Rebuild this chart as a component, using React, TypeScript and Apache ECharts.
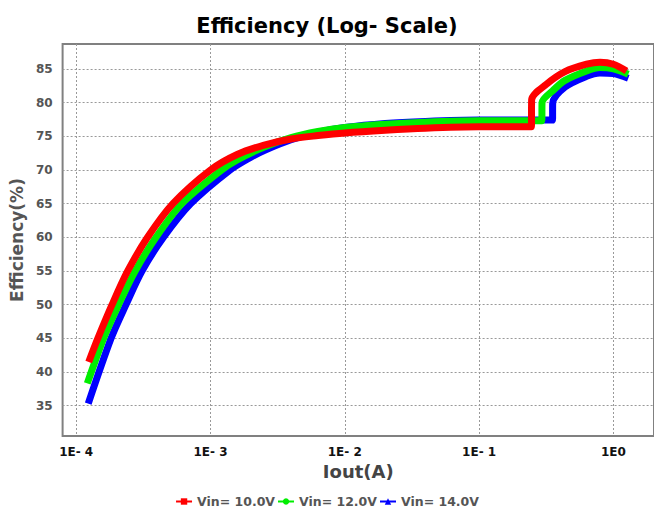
import React, { useEffect, useRef } from "react";
import * as echarts from "echarts";

// Iout (A) and efficiency (%)
const redX = [1.24e-4, 1.45e-4, 1.85e-4, 2.42e-4, 3.4e-4, 5.25e-4, 1.0e-3, 1.58e-3, 2.51e-3, 3.98e-3, 6.31e-3, 1.0e-2, 2.0e-2, 3.98e-2, 0.1, 0.2, 0.245, 0.246, 0.316, 0.436, 0.631, 0.794, 1.0, 1.25];
const redY = [41.5, 45.0, 50.0, 55.0, 60.0, 65.0, 70.0, 72.3, 73.7, 74.6, 75.1, 75.5, 75.9, 76.2, 76.4, 76.4, 76.4, 80.4, 82.7, 84.6, 85.7, 86.0, 85.7, 84.7];

const greenX = [1.21e-4, 1.6e-4, 2.07e-4, 2.75e-4, 3.93e-4, 6.12e-4, 1.21e-3, 1.58e-3, 2.51e-3, 3.98e-3, 6.31e-3, 1.0e-2, 2.0e-2, 3.98e-2, 0.1, 0.2, 0.293, 0.294, 0.355, 0.436, 0.631, 0.794, 1.0, 1.29];
const greenY = [38.3, 45.0, 50.0, 55.0, 60.0, 65.0, 70.0, 71.5, 73.4, 74.8, 75.7, 76.3, 76.8, 77.1, 77.3, 77.3, 77.3, 80.0, 81.8, 83.3, 84.7, 85.2, 85.0, 84.2];

const blueX = [1.23e-4, 1.82e-4, 2.35e-4, 3.09e-4, 4.47e-4, 7.13e-4, 1.4e-3, 2.0e-3, 2.51e-3, 3.98e-3, 6.31e-3, 1.0e-2, 2.0e-2, 3.98e-2, 0.1, 0.2, 0.352, 0.353, 0.436, 0.631, 0.794, 1.0, 1.29];
const blueY = [35.3, 45.0, 50.0, 55.0, 60.0, 65.0, 70.0, 71.9, 72.9, 74.5, 75.6, 76.3, 76.9, 77.2, 77.4, 77.4, 77.4, 79.9, 82.3, 83.9, 84.4, 84.3, 83.6];

const seriesNames = ["Vin= 10.0V", "Vin= 12.0V", "Vin= 14.0V"];
const xTicks = [1e-4, 1e-3, 1e-2, 1e-1, 1];
const yTicks = [35, 40, 45, 50, 55, 60, 65, 70, 75, 80, 85];

const FONT = "'DejaVu Sans', Verdana, sans-serif";

const zip = (xs: number[], ys: number[]) => xs.map((x, i) => [x, ys[i]]);

export default function App() {
  const ref = useRef<HTMLDivElement>(null);
  useEffect(() => {
    if (!ref.current) return;
    const chart = echarts.init(ref.current, undefined, { renderer: "svg" });
    const mk = (name: string, data: number[][], color: string, symbol: string, z: number) => ({
      name,
      type: "line",
      data,
      z,
      smooth: 0.3,
      showSymbol: false,
      symbol,
      symbolSize: 9,
      itemStyle: { color },
      lineStyle: { color, width: 7, cap: "butt", join: "round" },
    });
    chart.setOption({
      animation: false,
      backgroundColor: "#fff",
      textStyle: { fontFamily: FONT },
      title: {
        text: "Efficiency (Log- Scale)",
        left: "center",
        top: 10,
        textStyle: { fontSize: 21, fontWeight: "bold", color: "#000", fontFamily: FONT },
      },
      legend: {
        top: 490,
        left: "center",
        itemWidth: 16,
        itemHeight: 8,
        itemGap: 2,
        textStyle: { fontSize: 12.5, lineHeight: 13, fontWeight: "bold", color: "#555", fontFamily: FONT },
        data: seriesNames,
      },
      grid: {
        left: 62,
        right: -2,
        top: 44,
        bottom: 75,
        show: true,
        borderColor: "#808080",
        borderWidth: 2,
      },
      xAxis: {
        type: "log",
        logBase: 10,
        min: Math.pow(10, -4.101),
        max: Math.pow(10, 0.302),
        name: "Iout(A)",
        nameLocation: "middle",
        nameGap: 26,
        nameTextStyle: { fontSize: 18, fontWeight: "bold", color: "#444", fontFamily: FONT },
        axisLine: { show: false },
        axisTick: { show: false, customValues: xTicks },
        axisLabel: {
          customValues: xTicks,
          margin: 10,
          fontSize: 12,
          fontWeight: "bold",
          color: "#111",
          fontFamily: FONT,
          formatter: (v: number) => {
            const e = Math.round(Math.log10(v));
            return e < 0 ? `1E- ${-e}` : `1E${e}`;
          },
        },
        splitLine: { show: true, lineStyle: { color: "#999", width: 1, type: [2, 2] } },
      },
      yAxis: {
        type: "value",
        min: 30.5,
        max: 88.7,
        name: "Efficiency(%)",
        nameLocation: "middle",
        nameGap: 30,
        nameTextStyle: { fontSize: 17, fontWeight: "bold", color: "#555", fontFamily: FONT },
        axisLine: { show: false },
        axisTick: { show: false, customValues: yTicks },
        axisLabel: {
          customValues: yTicks,
          margin: 10,
          fontSize: 12,
          fontWeight: "bold",
          color: "#555",
          fontFamily: FONT,
        },
        splitLine: { show: true, lineStyle: { color: "#999", width: 1, type: [2, 2] } },
      },
      series: [
        mk(seriesNames[0], zip(redX, redY), "#ff0000", "rect", 5),
        mk(seriesNames[1], zip(greenX, greenY), "#00ee00", "circle", 4),
        mk(seriesNames[2], zip(blueX, blueY), "#0000ff", "triangle", 3),
      ],
    });
    return () => chart.dispose();
  }, []);
  return <div ref={ref} style={{ position: "fixed", left: 0, top: 0, width: 654, height: 511 }} />;
}
